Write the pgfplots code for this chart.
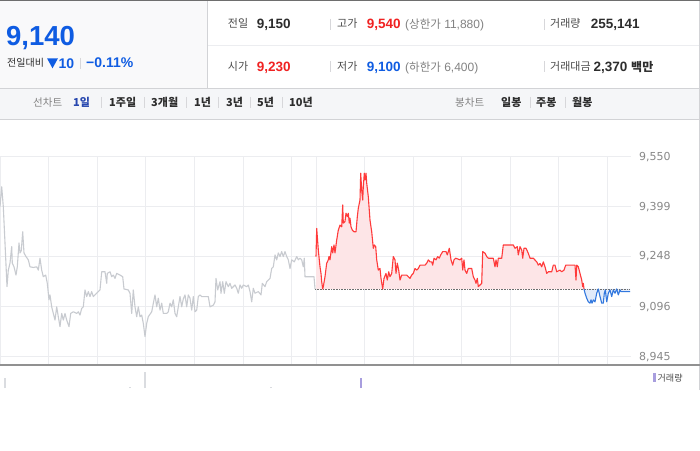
\documentclass[border=0pt]{standalone}
\usepackage{fontspec}
\setmainfont{Liberation Sans}
\newfontfamily\kr{Noto Sans CJK KR}
\newfontfamily\dv{DejaVu Sans}
\usepackage{pgfplots}
\usepackage{pgfplotstable}
\pgfplotsset{compat=1.18}

\definecolor{bt}{RGB}{15,92,226}
\definecolor{rt}{RGB}{240,34,34}
\definecolor{dk}{RGB}{45,45,45}
\definecolor{lab}{RGB}{75,75,75}
\definecolor{par}{RGB}{130,130,130}
\definecolor{sepc}{RGB}{215,215,218}
\definecolor{leftbg}{RGB}{249,249,250}
\definecolor{tbbg}{RGB}{245,246,248}
\definecolor{bord}{RGB}{210,211,214}
\definecolor{navy}{RGB}{40,72,175}
\definecolor{gridc}{RGB}{236,237,240}
\definecolor{grayl}{RGB}{200,203,208}
\definecolor{redl}{RGB}{255,58,58}
\definecolor{pinkf}{RGB}{253,229,231}
\definecolor{bluel}{RGB}{50,120,222}
\definecolor{bluef}{RGB}{226,235,250}
\definecolor{volc}{RGB}{168,158,222}
\definecolor{volg}{RGB}{218,220,224}
\definecolor{axc}{RGB}{145,145,145}
\definecolor{tick}{RGB}{136,136,136}
\definecolor{dotc}{RGB}{110,110,110}

\newcommand\fs[1]{\fontsize{#1}{#1}\selectfont}

\pgfplotstableread{
x y
0 9399
1.7 9459
3.3 9399
5 9289
7 9157
8.3 9207
10 9228
11.7 9278
12.3 9228
14 9217
16 9192
17.3 9217
19 9289
20 9259
21.3 9266
22.7 9323
24 9259
26 9248
28.3 9238
30 9217
33.3 9215
36.7 9217
38.3 9207
40 9243
41.7 9207
43.3 9187
45.7 9192
47.3 9167
49 9117
50 9132
51.7 9096
53.3 9076
55 9056
56.7 9096
58.3 9066
60 9036
61.7 9076
63.3 9056
65 9076
66.7 9056
69 9036
70.7 9076
73.3 9081
76.7 9076
78.3 9081
80 9071
81.7 9091
83.3 9096
85 9147
86.7 9127
88.3 9142
90 9127
91.7 9142
93.3 9127
96.7 9137
98.3 9142
100 9147
101.7 9202
105 9202
106.7 9167
107.3 9197
110 9202
111.7 9187
113.3 9192
115 9182
116.7 9197
120 9192
122.7 9187
124 9150
128.3 9147
130 9137
131.7 9076
133.3 9147
135 9096
136.7 9066
138.3 9096
140 9066
141.7 9071
143.3 9046
145 9006
146.7 9046
148.3 9066
151.7 9081
154 9117
155 9132
156.7 9096
158.3 9122
160 9086
161.7 9107
163.3 9076
166.7 9076
168.3 9081
170 9107
171.7 9096
173.3 9117
175 9076
176.7 9066
178.3 9096
180 9127
181.7 9096
183.3 9120
185 9132
186.7 9096
188.3 9132
190 9122
191.7 9086
193.3 9127
195 9081
196.7 9086
198.3 9127
200 9132
201.7 9127
208.3 9127
210 9096
213.3 9101
215 9111
216 9182
217.7 9147
220 9172
221 9137
222.7 9172
224.3 9137
226 9172
228.3 9157
230 9167
231.7 9152
235 9162
236.7 9152
238.3 9137
240 9162
241.7 9152
243.3 9162
246.7 9157
248.3 9162
250 9142
251.7 9111
253.3 9152
255 9137
258.3 9142
261 9132
262.3 9167
265 9157
266.7 9172
270 9182
271.7 9212
273.3 9217
275 9253
276.7 9238
278.3 9259
280 9248
281.7 9263
283.3 9248
285 9263
286.7 9248
288.3 9238
290 9212
291.7 9238
294.3 9232
296.7 9248
298.3 9238
300 9243
301.7 9238
303.3 9217
304.3 9243
305 9187
311.7 9187
314 9187
315 9150
}\grayd

\pgfplotstableread{
x y
316 9248
316.7 9333
318.3 9268
320 9217
321 9197
321.7 9172
322.7 9150
323.3 9157
325 9187
326.7 9228
328.3 9238
329 9248
330 9238
331.7 9278
332.7 9259
334 9283
335 9259
336.7 9298
338.3 9328
340 9343
341.7 9338
342.7 9404
343.3 9349
345 9354
346 9379
347.3 9369
348.3 9379
349.3 9349
350 9364
351 9338
352.3 9328
354 9323
356 9323
357.3 9368
358.3 9394
360 9419
360.7 9500
361.7 9449
362.7 9419
363.3 9459
364.3 9500
365 9480
366 9500
366.7 9470
368.3 9429
370 9358
371.7 9323
373.3 9273
374.3 9283
375.7 9278
376.7 9238
378.3 9207
380 9212
381 9182
382.7 9150
384 9182
386 9197
387.3 9177
388.7 9202
390 9187
391.7 9197
393.3 9248
395 9238
396 9197
397.3 9228
398.7 9207
400 9177
401.7 9192
403.3 9192
406.7 9192
408.3 9187
410 9182
411.7 9192
413.3 9197
415 9212
416.7 9207
418.3 9212
420 9222
425 9222
426.7 9228
428.3 9238
430 9232
431.7 9232
432.7 9222
434 9243
436 9238
437.7 9248
439.3 9243
440.7 9253
442.7 9263
446 9263
447.3 9253
449.3 9273
451 9238
452.7 9222
454 9238
455.7 9243
460 9238
461.7 9243
462.7 9207
464 9238
465 9207
466.7 9197
468.3 9212
470 9212
471.7 9212
473.3 9187
475 9177
476 9167
477.3 9182
478.3 9157
480 9162
481.7 9167
482.7 9263
485 9258
486.7 9248
488.3 9243
493.3 9243
495 9217
496 9238
497.3 9217
498.3 9243
501.7 9243
503.3 9283
513.3 9283
515 9273
517.3 9278
518.3 9253
520 9278
521.7 9268
522.7 9243
524 9273
526 9273
528.3 9258
530 9243
533.3 9243
536.7 9232
538.3 9222
540 9227
541.7 9217
543.3 9232
545 9217
546.7 9197
548.3 9202
551.7 9202
553.3 9222
555 9222
556.7 9202
560 9207
561.7 9202
564 9207
565.7 9222
575 9222
576 9177
576.7 9222
578.3 9217
580 9197
581.7 9177
582.7 9157
583.3 9167
584 9150
}\redd

\pgfplotstableread{
x y
584 9150
585 9137
586.7 9122
588.3 9111
590 9107
591 9117
592 9107
593.3 9117
595 9111
596.7 9137
598.3 9150
600 9127
601.7 9107
603.3 9107
604.3 9137
605.3 9147
606.7 9111
608.3 9137
610 9147
611.7 9127
613.3 9147
615 9137
616.7 9150
618.3 9132
620 9147
621 9142
630 9142
}\blued

\begin{document}
\begin{tikzpicture}[x=1pt,y=1pt]
\fill[white] (0,0) rectangle (700,450);

% header
\fill[leftbg] (0,362) rectangle (207,449);
\draw[line width=1pt, dotc] (0,449.5) -- (700,449.5);
\draw[bord, line width=0.8pt] (207.5,362) -- (207.5,449);
\draw[gridc, line width=0.8pt] (208,405) -- (699,405);
\fill[tbbg] (0,331) rectangle (700,361);
\draw[bord, line width=1pt] (0,361.5) -- (700,361.5);
\draw[bord, line width=0.8pt] (0,330.5) -- (700,330.5);
\draw[bord, line width=0.8pt] (699.5,60) -- (699.5,449);

\node[anchor=base west, inner sep=0pt] at (6,404.3) {\fs{27.5}\bfseries\color{bt}9,140};
\node[anchor=base west, inner sep=0pt] at (7,383.6) {\kr\fs{10}\color{dk}전일대비};
\fill[bt] (47,391.7) -- (58,391.7) -- (52.5,381.7) -- cycle;
\node[anchor=base west, inner sep=0pt] at (58.5,381.7) {\fs{14}\bfseries\color{bt}10};
\draw[sepc, line width=0.8pt] (80.5,392) -- (80.5,381);
\node[anchor=base west, inner sep=0pt] at (86,382) {\fs{14}\bfseries\color{bt}−0.11\%};

% row 1
\node[anchor=base west, inner sep=0pt] at (227.7,422) {\kr\fs{11}\color{lab}전일};
\node[anchor=base west, inner sep=0pt] at (256.7,421.2) {\fs{13.5}\bfseries\color{dk}9,150};
\draw[sepc, line width=0.8pt] (330.5,431) -- (330.5,420);
\node[anchor=base west, inner sep=0pt] at (337,422) {\kr\fs{11}\color{lab}고가};
\node[anchor=base west, inner sep=0pt] at (366.7,421.2) {\fs{13.5}\bfseries\color{rt}9,540};
\node[anchor=base west, inner sep=0pt] at (405,421.2) {\fs{12}\color{par}({\kr\fs{11.5}상한가} 11,880)};
\draw[sepc, line width=0.8pt] (544.5,431) -- (544.5,420);
\node[anchor=base west, inner sep=0pt] at (550,422) {\kr\fs{11}\color{lab}거래량};
\node[anchor=base west, inner sep=0pt] at (590.7,421.2) {\fs{13.5}\bfseries\color{dk}255,141};

% row 2
\node[anchor=base west, inner sep=0pt] at (227.7,379.3) {\kr\fs{11}\color{lab}시가};
\node[anchor=base west, inner sep=0pt] at (256.7,378.5) {\fs{13.5}\bfseries\color{rt}9,230};
\draw[sepc, line width=0.8pt] (330.5,388.5) -- (330.5,377.5);
\node[anchor=base west, inner sep=0pt] at (337,379.3) {\kr\fs{11}\color{lab}저가};
\node[anchor=base west, inner sep=0pt] at (366.7,378.5) {\fs{13.5}\bfseries\color{bt}9,100};
\node[anchor=base west, inner sep=0pt] at (405,378.5) {\fs{12}\color{par}({\kr\fs{11.5}하한가} 6,400)};
\draw[sepc, line width=0.8pt] (544.5,388.5) -- (544.5,377.5);
\node[anchor=base west, inner sep=0pt] at (550,379.3) {\kr\fs{11}\color{lab}거래대금};
\node[anchor=base west, inner sep=0pt] at (593.5,378.5) {\fs{13.5}\bfseries\color{dk}2,370 {\kr\fs{12}백만}};

% toolbar
\node[anchor=base west, inner sep=0pt] at (33,343.4) {\kr\fs{10.5}\color{par}선차트};
\node[anchor=base west, inner sep=0pt] at (73,343.4) {\kr\fs{11}\bfseries\color{navy}1일};
\node[anchor=base west, inner sep=0pt] at (109,343.4) {\kr\fs{11}\bfseries\color{dk}1주일};
\node[anchor=base west, inner sep=0pt] at (151,343.4) {\kr\fs{11}\bfseries\color{dk}3개월};
\node[anchor=base west, inner sep=0pt] at (194,343.4) {\kr\fs{11}\bfseries\color{dk}1년};
\node[anchor=base west, inner sep=0pt] at (226,343.4) {\kr\fs{11}\bfseries\color{dk}3년};
\node[anchor=base west, inner sep=0pt] at (257,343.4) {\kr\fs{11}\bfseries\color{dk}5년};
\node[anchor=base west, inner sep=0pt] at (289,343.4) {\kr\fs{11}\bfseries\color{dk}10년};
\foreach \sx in {101.5,144.5,186.5,218.5,250.5,282.5,530.5,565.5}
  \draw[sepc, line width=0.8pt] (\sx,353) -- (\sx,342);
\node[anchor=base west, inner sep=0pt] at (455,343.4) {\kr\fs{10.5}\color{par}봉차트};
\node[anchor=base west, inner sep=0pt] at (501,343.4) {\kr\fs{11}\bfseries\color{dk}일봉};
\node[anchor=base west, inner sep=0pt] at (536,343.4) {\kr\fs{11}\bfseries\color{dk}주봉};
\node[anchor=base west, inner sep=0pt] at (572,343.4) {\kr\fs{11}\bfseries\color{dk}월봉};

% price chart
\begin{axis}[
  at={(0pt,85pt)}, anchor=south west,
  width=631pt, height=208.3pt, scale only axis,
  xmin=0, xmax=631, ymin=8920, ymax=9550,
  axis line style={draw=none},
  major tick length=0pt,
  xtick={0.5,48,97,145.5,194.5,243,291.5,316,364.5,413,461.5,510,558.5,607},
  xticklabels={},
  ytick={8945,9096,9248,9399,9550},
  scaled y ticks=false,
  /pgf/number format/assume math mode=true,
  yticklabel pos=right,
  yticklabel style={font=\dv\fs{11}, text=tick, anchor=west, xshift=4.5pt,
    /pgf/number format/fixed, /pgf/number format/precision=0,
    /pgf/number format/1000 sep={,}},
  xmajorgrids, ymajorgrids,
  grid style={gridc, line width=0.8pt},
]
\addplot[fill=pinkf, draw=none] table {\redd} -- (axis cs:316,9150) -- cycle;
\addplot[fill=bluef, draw=none] table {\blued} -- (axis cs:630,9150) -- cycle;
\addplot[densely dotted, dotc, line width=0.6pt] coordinates {(315,9150) (630,9150)};
\addplot[grayl, line width=1.1pt, line join=round] table {\grayd};
\addplot[redl, line width=1.1pt, line join=round] table {\redd};
\addplot[bluel, line width=1.1pt, line join=round] table {\blued};
\end{axis}

% volume strip
\begin{axis}[
  at={(0pt,62pt)}, anchor=south west,
  width=631pt, height=22pt, scale only axis,
  xmin=0, xmax=631, ymin=0, ymax=22,
  axis line style={draw=none}, ticks=none,
]
\addplot[ycomb, volg, line width=1.3pt] coordinates {(5,10) (130,1.5) (145,16) (271,1.5)};
\addplot[ycomb, volc, line width=1.5pt] coordinates {(361,10)};
\end{axis}

\draw[axc, line width=1.3pt] (0,85) -- (700,85);
\fill[volc] (652.7,76.7) rectangle (655.7,68.3);
\node[anchor=base west, inner sep=0pt] at (657.5,68.8) {\kr\fs{9}\color{lab}거래량};

\pgfresetboundingbox
\useasboundingbox (0,0) rectangle (700,450);
\end{tikzpicture}
\end{document}
